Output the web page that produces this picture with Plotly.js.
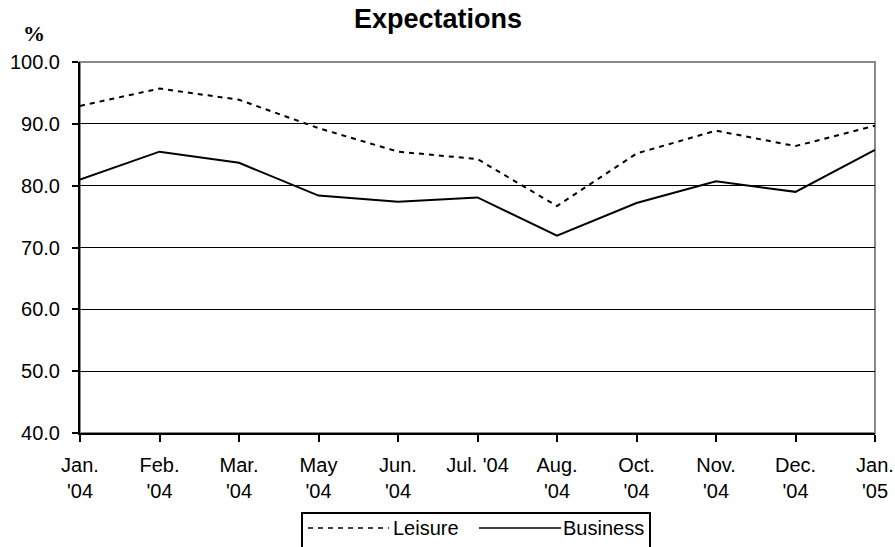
<!DOCTYPE html>
<html>
<head>
<meta charset="utf-8">
<script src="https://cdn.plot.ly/plotly-3.0.1.min.js"></script>
<style>html,body{margin:0;padding:0;background:#fff}#chart{width:895px;height:547px}</style>
</head>
<body>
<div id="chart"></div>
<script>
const categories = ["Jan.<br>'04","Feb.<br>'04","Mar.<br>'04","May<br>'04","Jun.<br>'04","Jul. '04<br> ","Aug.<br>'04","Oct.<br>'04","Nov.<br>'04","Dec.<br>'04","Jan.<br>'05"];
const seriesNames = ["Leisure", "Business"];
const leisure = [92.9, 95.7, 93.9, 89.3, 85.5, 84.3, 76.7, 85.2, 88.9, 86.4, 89.7];
const business = [81.0, 85.5, 83.7, 78.4, 77.4, 78.1, 71.9, 77.2, 80.7, 79.0, 85.8];
const yTicks = [40, 50, 60, 70, 80, 90, 100];

const W = 895, H = 547;
const M = {l: 80, r: 20, t: 62, b: 114};
const pw = W - M.l - M.r, ph = H - M.t - M.b;
const px = x => (x - M.l) / pw;
const py = y => (H - M.b - y) / ph;

const FAM = "Liberation Sans, Arial, sans-serif";
const font = {family: FAM, size: 20, color: "#000"};
const leisureDash = "5px,5px";

const traces = [
  {x: categories, y: leisure, name: seriesNames[0], type: "scatter", mode: "lines",
   line: {color: "#000", width: 2, dash: leisureDash}},
  {x: categories, y: business, name: seriesNames[1], type: "scatter", mode: "lines",
   line: {color: "#000", width: 2}}
];

const layout = {
  width: W, height: H,
  margin: {l: M.l, r: M.r, t: M.t, b: M.b, autoexpand: false},
  paper_bgcolor: "#fff", plot_bgcolor: "#fff",
  font: font,
  showlegend: false,
  title: {text: "<b>Expectations</b>", xref: "container", x: 438 / W, xanchor: "center",
          yref: "container", y: 1 - 19 / H, yanchor: "middle",
          font: {family: FAM, size: 27, color: "#000"}},
  xaxis: {type: "category", range: [0, categories.length - 1], showgrid: false, zeroline: false,
          showline: true, linecolor: "#000", linewidth: 2,
          ticks: "outside", ticklen: 7, tickcolor: "#000", tickwidth: 2,
          tickangle: 0, tickfont: font, ticklabelstandoff: 6, automargin: false, fixedrange: true},
  yaxis: {range: [40, 100], tickvals: yTicks, ticktext: yTicks.map(v => v.toFixed(1)),
          showgrid: true, gridcolor: "#000", gridwidth: 1, zeroline: false,
          showline: true, linecolor: "#000", linewidth: 2,
          ticks: "outside", ticklen: 6, tickcolor: "#000", tickwidth: 2,
          tickfont: font, ticklabelstandoff: 8, automargin: false, fixedrange: true},
  shapes: [
    {type: "rect", xref: "paper", yref: "paper", x0: 0, x1: 1, y0: 0, y1: 1,
     line: {color: "#888", width: 2}, layer: "below"},
    // legend box
    {type: "rect", xref: "paper", yref: "paper", x0: px(302), x1: px(650), y0: py(513), y1: py(560),
     line: {color: "#000", width: 2}, fillcolor: "#fff"},
    {type: "line", xref: "paper", yref: "paper", x0: px(308), x1: px(389), y0: py(528), y1: py(528),
     line: {color: "#000", width: 1.5, dash: leisureDash}},
    {type: "line", xref: "paper", yref: "paper", x0: px(479), x1: px(561), y0: py(528), y1: py(528),
     line: {color: "#000", width: 1.5}}
  ],
  annotations: [
    {text: "<b>%</b>", xref: "paper", yref: "paper", x: px(34), y: py(33), xanchor: "center", yanchor: "middle",
     showarrow: false, font: {family: "Liberation Serif, Times New Roman, serif", size: 22, color: "#000"}},
    {text: seriesNames[0], xref: "paper", yref: "paper", x: px(391), y: py(528), xanchor: "left", yanchor: "middle",
     showarrow: false, font: font},
    {text: seriesNames[1], xref: "paper", yref: "paper", x: px(561), y: py(528), xanchor: "left", yanchor: "middle",
     showarrow: false, font: font}
  ]
};

Plotly.newPlot("chart", traces, layout, {displayModeBar: false, staticPlot: true});
</script>
</body>
</html>
